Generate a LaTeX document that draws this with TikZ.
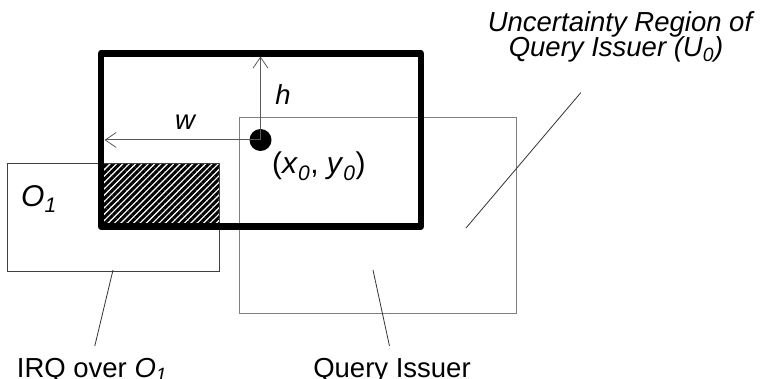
\documentclass[tikz,border=0pt]{standalone}
\usepackage{fontspec}
\setmainfont{Liberation Sans}
\usetikzlibrary{arrows.meta, patterns.meta}

\begin{document}
\begin{tikzpicture}[
  x=1pt, y=-1pt,
  every node/.style={inner sep=0pt, font=\fontsize{27.5}{25}\selectfont},
  region/.style={draw=gray, line width=1pt},
  irq/.style={draw=black, line width=6.5pt, line join=round},
  hatch/.style={pattern={Lines[angle=45, distance=4.5pt, line width=3pt]}},
  dim/.style={draw=gray!70!black, line width=1pt, -{Straight Barb[length=11pt, width=15pt, line width=0.8pt]}},
  leader/.style={draw=black!80, line width=0.8pt},
  lbl/.style={anchor=base},
  lbli/.style={anchor=base, font=\fontsize{27.5}{25}\selectfont\itshape}
]
  \useasboundingbox (0,0) rectangle (762,379);

  % uncertainty region of the query issuer and object O1
  \draw[region] (239,118) rectangle (516.5,313.5);
  \fill[hatch] (101,164) rectangle (219,226.5);
  \draw[region, draw=black!75] (7,164) rectangle (219,271);

  % IRQ over O1
  \draw[irq] (101,53.5) rectangle (421,226.5);

  % query issuer and extents
  \node[circle, fill, minimum size=22pt] (x0) at (260.5,140) {};
  \coordinate (htip) at (260.5,56.5);
  \coordinate (wtip) at (104.5,140);
  \draw[dim] (x0.center) -- (htip);
  \draw[dim] (x0.center) -- (wtip);

  % labels
  \node[lbli] (h) at (283,105) {h};
  \node[lbli] (w) at (185,130) {w};
  \node[lbl, anchor=base west, font=\fontsize{30}{30}\selectfont] (pos) at (272,174) {(\textit{x}\textsubscript{\textit{0}}, \textit{y}\textsubscript{\textit{0}})};
  \node[lbli, anchor=base west, font=\fontsize{30}{30}\selectfont\itshape] (o1) at (21,207) {O\textsubscript{1}};
  \node[lbli] (unc1) at (620,32) {Uncertainty Region of};
  \node[lbli] (unc2) at (616,57) {Query Issuer (U\textsubscript{0})};
  \node[lbl] (irqlbl) at (92,377) {IRQ over \textit{O}\textsubscript{\textit{1}}};
  \node[lbl] (qi) at (392,377) {Query Issuer};

  % leader lines
  \coordinate (uncpt) at (466,228);
  \coordinate (qipt) at (373,270);
  \coordinate (irqpt) at (113,270);
  \draw[leader, shorten <=39pt] ([xshift=-10pt]unc2.south) -- (uncpt);
  \draw[leader, shorten <=12pt] (qi.north) -- (qipt);
  \draw[leader, shorten <=12pt] (irqlbl.north) -- (irqpt);
\end{tikzpicture}
\end{document}
